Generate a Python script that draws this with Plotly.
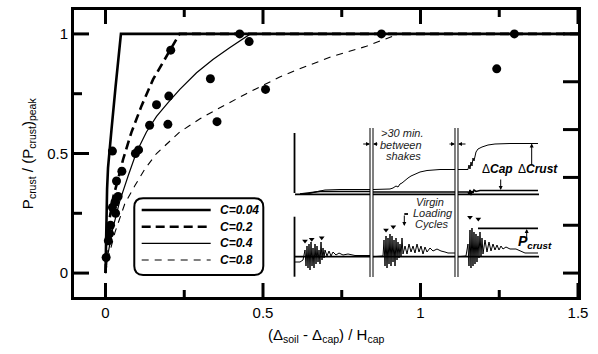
import plotly.graph_objects as go

# ---------------- data ----------------
pts_x = [0.002, 0.009, 0.013, 0.016, 0.032, 0.022, 0.030, 0.040, 0.035, 0.052, 0.022, 0.095,
         0.105, 0.140, 0.198, 0.162, 0.201, 0.207, 0.333, 0.354, 0.508, 0.426, 0.456, 0.876,
         1.298, 1.242]
pts_y = [0.065, 0.135, 0.165, 0.200, 0.250, 0.275, 0.296, 0.320, 0.385, 0.426, 0.510, 0.500,
         0.515, 0.618, 0.622, 0.704, 0.740, 0.932, 0.8125, 0.633, 0.768, 1.000, 0.968, 1.000,
         1.000, 0.854]

c004_x = [0, 0.002, 0.005, 0.008, 0.0105, 0.019, 0.032, 0.042, 0.049, 1.5]
c004_y = [0, 0.20, 0.35, 0.44, 0.48, 0.60, 0.78, 0.91, 1.0, 1.0]

c02_x = [0, 0.004, 0.012, 0.025, 0.040, 0.056, 0.082, 0.114, 0.151, 0.193, 0.235, 1.5]
c02_y = [0, 0.12, 0.22, 0.32, 0.393, 0.476, 0.5875, 0.698, 0.81, 0.907, 1.0, 1.0]

c04_x = [0, 0.008, 0.022, 0.045, 0.072, 0.098, 0.130, 0.162, 0.200, 0.236, 0.289, 0.341, 0.394, 0.460, 1.5]
c04_y = [0, 0.08, 0.18, 0.30, 0.407, 0.504, 0.59, 0.655, 0.715, 0.768, 0.8375, 0.893, 0.942, 1.0, 1.0]

c08_x = [0, 0.010, 0.030, 0.061, 0.093, 0.125, 0.162, 0.236, 0.300, 0.354, 0.447, 0.553, 0.616,
         0.722, 0.828, 0.891, 0.930, 1.5]
c08_y = [0, 0.07, 0.17, 0.289, 0.365, 0.435, 0.50, 0.59, 0.645, 0.685, 0.75, 0.82, 0.854,
         0.907, 0.948, 0.979, 1.0, 1.0]

legend_labels = ["C=0.04", "C=0.2", "C=0.4", "C=0.8"]
x_ticks = [0, 0.5, 1, 1.5]
x_ticklabels = ["0", "0.5", "1", "1.5"]
x_minor = [0.25, 0.75, 1.25]
y_ticks = [0, 0.5, 1]
y_ticklabels = ["0", "0.5", "1"]
y_minor = [0.25, 0.75]
y_right_ticks = [0, 0.2, 0.4, 0.6, 0.8, 1.0]

# inset schematic (time units, amplitude units)
load_t = [4, 10, 13, 15, 16, 17, 18, 19, 20, 21, 22, 23, 24, 25, 26, 27, 28, 29, 30, 31, 32, 33, 34, 35,
          37, 39, 41, 43, 46, 49, 53, 58, 65, 80, None,
          83, 93, 94, 95, 96, 97, 98, 99, 100, 101, 102, 103, 104, 105, 106, 107, 108, 109, 110, 111, 112,
          113, 115, 117, 119, 121, 123, 125, 127, 129, 131, 133, 135, 137, 140, 143, 147, 151, 155, 158, 165, None,
          168, 176, 178, 179, 180, 181, 182, 183, 184, 185, 186, 187, 188, 189, 190, 191, 192, 193, 195, 197,
          199, 201, 203, 205, 207, 209, 211, 213, 216, 220, 226, 230, 235, 248]
load_v = [18, 18, 20, 30, 14, 34, 12, 36, 10, 38, 14, 32, 12, 36, 16, 34, 18, 30, 16, 38, 20, 32, 22, 30,
          24, 29, 24, 28, 25, 27, 25, 26, 24.5, 24.5, None,
          23.3, 24, 40, 14, 44, 12, 42, 16, 46, 14, 44, 18, 40, 14, 42, 20, 38, 22, 36, 24, 42,
          26, 34, 26, 36, 28, 34, 27, 36, 28, 34, 26, 33, 28, 32, 29, 31, 29, 28, 27, 27, None,
          23.3, 24, 36, 14, 50, 12, 52, 14, 48, 16, 46, 18, 44, 22, 48, 24, 42, 26, 40, 28,
          38, 29, 36, 30, 35, 30, 34, 31, 33, 31, 31, 29, 27, 27]
crust_t = [10, 17, 25, 35, 50, 80, None, 83, 100, 103, 106, 108, 110, 112, 115, 118, 121, 125, 130, 137, 150,
           165, None, 168, 178, 179, 180, 181, 182, 183, 184, 186, 188, 192, 198, 205, 220, 248]
crust_v = [86, 86, 88, 90, 90.5, 90.5, None, 90.5, 91, 92, 94, 93, 96, 97, 100, 102, 104, 106, 108, 109.5, 110.5,
           110.5, None, 110.5, 110.5, 115, 111, 118, 114, 122, 119, 128, 131, 133, 135, 136, 136.5, 136.5]
cap_t = [10, 30, 80, None, 83, 165, None, 168, 178, 179, 180, 181, 182, 183, 184, 186, 190, 248]
cap_v = [86, 88.5, 88.5, None, 88, 88, None, 88, 88, 86, 90, 85, 89, 87, 90, 88.5, 89.5, 89.5]
tri_t = [15, 21.7, 31.7, 96, 103.3, 180, 188.3]
tri_v = [39, 40.7, 42.3, 50, 53.3, 62.7, 61]

FONT = "Arial, Liberation Sans, sans-serif"
W, H = 598, 354
ML, MR, MT, MB = 74, 20, 10, 57
PW, PH = W - ML - MR, H - MT - MB

fig = go.Figure()

# main curves
fig.add_trace(go.Scatter(x=c004_x, y=c004_y, mode="lines", line=dict(color="black", width=2.6)))
fig.add_trace(go.Scatter(x=c02_x, y=c02_y, mode="lines", line=dict(color="black", width=2.6, dash="9px,5px")))
fig.add_trace(go.Scatter(x=c04_x, y=c04_y, mode="lines", line=dict(color="black", width=1.2)))
fig.add_trace(go.Scatter(x=c08_x, y=c08_y, mode="lines", line=dict(color="black", width=1.1, dash="7px,6px")))
fig.add_trace(go.Scatter(x=pts_x, y=pts_y, mode="markers", marker=dict(color="black", size=9)))

# inset traces
fig.add_trace(go.Scatter(x=load_t, y=load_v, xaxis="x2", yaxis="y2", mode="lines",
                         line=dict(color="black", width=1), connectgaps=False))
fig.add_trace(go.Scatter(x=crust_t, y=crust_v, xaxis="x2", yaxis="y2", mode="lines",
                         line=dict(color="black", width=1), connectgaps=False))
fig.add_trace(go.Scatter(x=cap_t, y=cap_v, xaxis="x2", yaxis="y2", mode="lines",
                         line=dict(color="black", width=1.6), connectgaps=False))
fig.add_trace(go.Scatter(x=tri_t, y=tri_v, xaxis="x2", yaxis="y2", mode="markers",
                         marker=dict(symbol="triangle-down", color="black", size=5)))
# inset axes / baselines / markers
fig.add_trace(go.Scatter(x=[4.5, 4.5, None, 4.5, 4.5, None, 5, 249, None, 5, 249, None, 188, 248, None, 118, 114.3],
                         y=[87, 147, None, 3.3, 63.3, None, 85.7, 85.7, None, 23.3, 23.3, None, 51.7, 51.7, None, 66, 66],
                         xaxis="x2", yaxis="y2", mode="lines", line=dict(color="black", width=1.8)))

shapes = []
# tick marks on all four sides (inside), positioned on the data axes
tk = dict(color="black", width=3)
for v in x_ticks:
    shapes.append(dict(type="line", xref="x", yref="paper", x0=v, x1=v, y0=0, y1=14 / PH, line=tk, layer="above"))
    shapes.append(dict(type="line", xref="x", yref="paper", x0=v, x1=v, y0=1, y1=1 - 14 / PH, line=tk, layer="above"))
for v in x_minor:
    shapes.append(dict(type="line", xref="x", yref="paper", x0=v, x1=v, y0=0, y1=7 / PH, line=tk, layer="above"))
    shapes.append(dict(type="line", xref="x", yref="paper", x0=v, x1=v, y0=1, y1=1 - 7 / PH, line=tk, layer="above"))
for v in y_ticks:
    shapes.append(dict(type="line", xref="paper", yref="y", x0=0, x1=15 / PW, y0=v, y1=v, line=tk, layer="above"))
for v in y_minor:
    shapes.append(dict(type="line", xref="paper", yref="y", x0=0, x1=8 / PW, y0=v, y1=v, line=tk, layer="above"))
for v in y_right_ticks:
    shapes.append(dict(type="line", xref="paper", yref="y", x0=1, x1=1 - 15 / PW, y0=v, y1=v, line=tk, layer="above"))

# double vertical lines (time gaps)
for g0, g1 in [(80, 83), (165, 168)]:
    shapes.append(dict(type="rect", xref="x2", yref="y2", x0=g0, x1=g1, y0=3, y1=152,
                       fillcolor="white", line=dict(width=0)))
    for g in (g0, g1):
        shapes.append(dict(type="line", xref="x2", yref="y2", x0=g, x1=g, y0=3, y1=152,
                           line=dict(color="black", width=1)))

# legend box (rounded)
lx0, lx1, ly0, ly1 = 0.1196, 0.3756, 0.0767, 0.3439
rx, ry = 0.0175, 0.031
path = (f"M {lx0+rx},{ly1} L {lx1-rx},{ly1} Q {lx1},{ly1} {lx1},{ly1-ry} "
        f"L {lx1},{ly0+ry} Q {lx1},{ly0} {lx1-rx},{ly0} L {lx0+rx},{ly0} "
        f"Q {lx0},{ly0} {lx0},{ly0+ry} L {lx0},{ly1-ry} Q {lx0},{ly1} {lx0+rx},{ly1} Z")
shapes.append(dict(type="path", xref="paper", yref="paper", path=path,
                   fillcolor="white", line=dict(color="black", width=2)))
leg_y = [0.3031, 0.2449, 0.1871, 0.1289]
leg_styles = [dict(width=2.6), dict(width=2.6, dash="9px,5px"), dict(width=1.2), dict(width=1.1, dash="7px,6px")]
for yy, st in zip(leg_y, leg_styles):
    shapes.append(dict(type="line", xref="paper", yref="paper", x0=0.1343, x1=0.2712, y0=yy, y1=yy,
                       line=dict(color="black", **st)))

annotations = []
for yy, lab in zip(leg_y, legend_labels):
    annotations.append(dict(xref="paper", yref="paper", x=0.2853, y=yy, text=f"<b><i>{lab}</i></b>",
                            showarrow=False, xanchor="left", yanchor="middle", align="left",
                            font=dict(family=FONT, size=12, color="black")))

def itext(t, v, txt, size=11, angle=0, color="#222"):
    annotations.append(dict(xref="x2", yref="y2", x=t, y=v, text=txt, showarrow=False,
                            textangle=angle, font=dict(family=FONT, size=size, color=color)))

itext(-6, 110, "<b><i>Disp.</i></b>", 12, -90, "black")
itext(-8, 34, "<b><i>Load</i></b>", 12, -90, "black")
itext(112, 146.7, "<i>&gt;30 min.</i>", 11)
itext(111, 135, "<i>between</i>", 11)
itext(113, 124.5, "<i>shakes</i>", 11)
itext(140, 78.3, "<i>Virgin</i>", 11)
itext(143, 67, "<i>Loading</i>", 11)
itext(141.7, 56, "<i>Cycles</i>", 11)
itext(208, 111, "Δ<b><i>Cap</i></b>", 12, 0, "black")
itext(248.5, 111, "Δ<b><i>Crust</i></b>", 12, 0, "black")
itext(245, 38.3, "<b><i>P<sub>crust</sub></i></b>", 14, 0, "black")

def arrow(t0, v0, t1, v1):
    annotations.append(dict(xref="x2", yref="y2", axref="x2", ayref="y2", x=t1, y=v1, ax=t0, ay=v0,
                            text="", showarrow=True, arrowhead=2, arrowsize=0.8, arrowwidth=1,
                            arrowcolor="black"))

arrow(71.7, 136, 80, 136)
arrow(89, 136, 83, 136)
arrow(158, 136, 165, 136)
arrow(177, 136, 168, 136)
arrow(210.7, 102, 210.7, 90)
arrow(241.7, 113.3, 241.7, 136.5)
arrow(236.7, 38.3, 236.7, 51)
arrow(114.3, 66, 114.3, 54)

# axis titles as paper annotations
annotations.append(dict(xref="paper", yref="paper", x=0.5, y=-0.095, xanchor="center", yanchor="top",
                        text="(Δ<sub>soil</sub> - Δ<sub>cap</sub>) / H<sub>cap</sub>", showarrow=False,
                        font=dict(family=FONT, size=15, color="black")))
annotations.append(dict(xref="paper", yref="paper", x=-0.09, y=0.5, xanchor="center", yanchor="middle",
                        text="P<sub>crust</sub> / (P<sub>crust</sub>)<sub>peak</sub>", showarrow=False,
                        textangle=-90, font=dict(family=FONT, size=15, color="black")))

tickfont = dict(family=FONT, size=15, color="black")
fig.update_layout(
    width=W, height=H, margin=dict(l=ML, r=MR, t=MT, b=MB, autoexpand=False),
    paper_bgcolor="white", plot_bgcolor="white", showlegend=False,
    xaxis=dict(range=[-0.1, 1.5], tickmode="array", tickvals=x_ticks, ticktext=x_ticklabels,
               ticks="", tickfont=tickfont,
               showline=True, linecolor="black", linewidth=3, mirror=True,
               showgrid=False, zeroline=False, automargin=False, fixedrange=True),
    yaxis=dict(range=[-0.1, 1.1], tickmode="array", tickvals=y_ticks, ticktext=y_ticklabels,
               ticks="", tickfont=tickfont,
               showline=True, linecolor="black", linewidth=3, mirror=True,
               showgrid=False, zeroline=False, automargin=False, fixedrange=True),
    xaxis2=dict(domain=[0.4286, 0.9345], range=[0, 255], anchor="y2", visible=False, fixedrange=True),
    yaxis2=dict(domain=[0.0592, 0.5993], range=[0, 155], anchor="x2", visible=False, fixedrange=True),
    shapes=shapes, annotations=annotations,
)

fig.write_html("out.html", config={"displayModeBar": False},
               post_script="document.body.style.margin='0';document.body.style.overflow='hidden';")
